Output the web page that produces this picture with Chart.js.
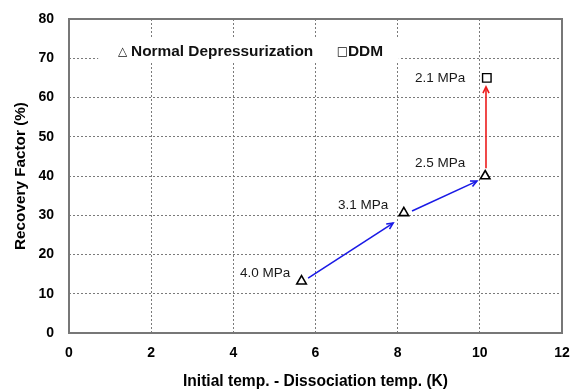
<!DOCTYPE html>
<html><head><meta charset="utf-8">
<script src="https://cdn.jsdelivr.net/npm/chart.js@4/dist/chart.umd.min.js"></script>
<style>html,body{margin:0;padding:0;background:#fff}#wrap{width:573px;height:391px;position:relative}</style>
</head><body><div id="wrap"><canvas id="c"></canvas></div>
<script>
// ---- data ----
const normalX = [5.66, 8.15, 10.13];
const normalY = [13.2, 30.6, 40.0];
const ddmX = [10.17];
const ddmY = [65.0];
const seriesNames = ['Normal Depressurization', 'DDM'];
const pressureLabels = ['4.0 MPa', '3.1 MPa', '2.5 MPa', '2.1 MPa'];
const labelX = [4.16, 6.55, 8.42, 8.42];
const labelY = [15.3, 32.6, 43.3, 65.0];
const arrowFromX = [5.82, 8.35, 10.15];
const arrowFromY = [14.0, 31.1, 42.0];
const arrowToX = [7.89, 9.93, 10.15];
const arrowToY = [28.0, 38.7, 62.7];
const xTicks = [0, 2, 4, 6, 8, 10, 12];
const yTicks = [0, 10, 20, 30, 40, 50, 60, 70, 80];
const xTitle = 'Initial temp. - Dissociation temp. (K)';
const yTitle = 'Recovery Factor (%)';

const arrowColors = ['#1a1ae6', '#1a1ae6', '#ec1c1c'];
const FONT = '"Liberation Sans", Arial, sans-serif';

const toPts = (xs, ys) => xs.map((x, i) => ({x: x, y: ys[i]}));

const decor = {
  id: 'decor',
  beforeDatasetsDraw(chart) {
    const {ctx, chartArea: a, scales: {x, y}} = chart;
    ctx.save();
    // legend box (white, covers grid)
    const bx0 = x.getPixelForValue(0.71), bx1 = x.getPixelForValue(8.03);
    const by0 = y.getPixelForValue(75.4), by1 = y.getPixelForValue(68.8);
    ctx.fillStyle = '#fff';
    ctx.fillRect(bx0, by0, bx1 - bx0, by1 - by0);
    // plot border
    ctx.strokeStyle = '#777';
    ctx.lineWidth = 2;
    ctx.strokeRect(Math.round(a.left), Math.round(a.top), Math.round(a.right) - Math.round(a.left), Math.round(a.bottom) - Math.round(a.top));
    // legend text
    const ly = y.getPixelForValue(71.6);
    ctx.textBaseline = 'middle';
    ctx.fillStyle = '#111';
    ctx.font = '12px "DejaVu Sans"';
    ctx.textAlign = 'left';
    ctx.fillText('\u25B3', x.getPixelForValue(1.19), ly);
    ctx.fillText('\u25A1', x.getPixelForValue(6.52), ly);
    ctx.font = 'bold 15.4px ' + FONT;
    ctx.fillText(seriesNames[0], x.getPixelForValue(1.51), ly);
    ctx.fillText(seriesNames[1], x.getPixelForValue(6.79), ly);
    // arrows
    for (let i = 0; i < arrowFromX.length; i++) {
      const x0 = x.getPixelForValue(arrowFromX[i]), y0 = y.getPixelForValue(arrowFromY[i]);
      const x1 = x.getPixelForValue(arrowToX[i]), y1 = y.getPixelForValue(arrowToY[i]);
      ctx.strokeStyle = arrowColors[i];
      ctx.lineWidth = 1.6;
      ctx.beginPath(); ctx.moveTo(x0, y0); ctx.lineTo(x1, y1); ctx.stroke();
      const ang = Math.atan2(y1 - y0, x1 - x0), L = 7, h = 0.45;
      ctx.beginPath();
      ctx.moveTo(x1 - L * Math.cos(ang - h), y1 - L * Math.sin(ang - h));
      ctx.lineTo(x1, y1);
      ctx.lineTo(x1 - L * Math.cos(ang + h), y1 - L * Math.sin(ang + h));
      ctx.stroke();
    }
    // pressure labels
    ctx.fillStyle = '#1a1a1a';
    ctx.font = '13.5px ' + FONT;
    ctx.textAlign = 'left';
    ctx.textBaseline = 'middle';
    pressureLabels.forEach((t, i) => ctx.fillText(t, x.getPixelForValue(labelX[i]), y.getPixelForValue(labelY[i])));
    ctx.restore();
  }
};

new Chart(document.getElementById('c'), {
  type: 'scatter',
  data: {
    datasets: [
      {label: seriesNames[0], data: toPts(normalX, normalY), pointStyle: 'triangle', pointRadius: 5.5,
       pointBackgroundColor: '#fff', pointBorderColor: '#000', pointBorderWidth: 1.6},
      {label: seriesNames[1], data: toPts(ddmX, ddmY), pointStyle: 'rect', pointRadius: 6,
       pointBackgroundColor: '#fff', pointBorderColor: '#000', pointBorderWidth: 1.4}
    ]
  },
  options: {
    responsive: true, maintainAspectRatio: false, animation: false,
    layout: {padding: {left: 0, right: 11, top: 19, bottom: 0}},
    plugins: {legend: {display: false}, tooltip: {enabled: false}},
    scales: {
      x: {
        type: 'linear', min: xTicks[0], max: xTicks[xTicks.length - 1],
        afterBuildTicks: s => { s.ticks = xTicks.map(v => ({value: v})); },
        afterFit: s => { s.height = 58; s.paddingLeft = 0; s.paddingRight = 0; },
        grid: {color: '#7a7a7a', lineWidth: 1, drawTicks: false},
        border: {display: false, dash: [2, 2]},
        ticks: {padding: 12, color: '#000', font: {family: FONT, size: 14, weight: 'bold'}, maxRotation: 0},
        title: {display: true, text: xTitle, color: '#000', font: {family: FONT, size: 15.6, weight: 'bold'}, padding: {top: 0, bottom: 0}}
      },
      y: {
        type: 'linear', min: yTicks[0], max: yTicks[yTicks.length - 1],
        afterBuildTicks: s => { s.ticks = yTicks.map(v => ({value: v})); },
        afterFit: s => { s.width = 69; s.paddingTop = 0; s.paddingBottom = 0; },
        grid: {color: '#7a7a7a', lineWidth: 1, drawTicks: false},
        border: {display: false, dash: [2, 2]},
        ticks: {padding: 15, color: '#000', font: {family: FONT, size: 14, weight: 'bold'}},
        title: {display: true, text: yTitle, color: '#000', font: {family: FONT, size: 15.3, weight: 'bold'}, padding: {top: 12, bottom: 0}}
      }
    }
  },
  plugins: [decor]
});
</script>
</body></html>
